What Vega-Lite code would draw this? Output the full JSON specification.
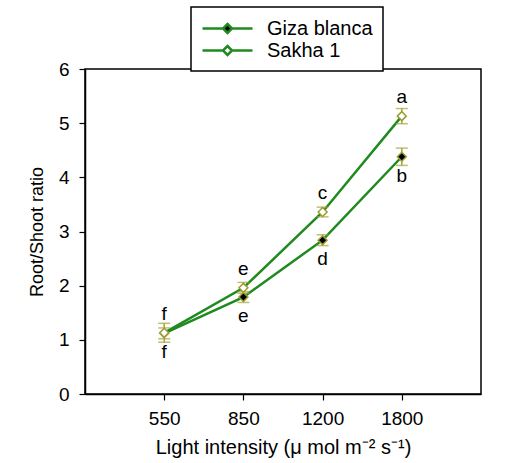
{
  "$schema": "https://vega.github.io/schema/vega-lite/v6.json",
  "width": 396,
  "height": 325,
  "autosize": "none",
  "padding": {"left": 85, "top": 69, "right": 32, "bottom": 69},
  "background": "white",
  "config": {
    "font": "Liberation Sans",
    "view": {"stroke": "black", "strokeWidth": 1.5},
    "axis": {
      "domainColor": "black", "domainWidth": 1.5, "tickColor": "black", "tickWidth": 1.2,
      "tickSize": 6, "grid": false, "labelFontSize": 19, "labelColor": "black",
      "titleFontSize": 20, "titleFontWeight": "normal", "titleColor": "black", "labelFont": "Liberation Sans", "titleFont": "Liberation Sans"
    },
    "legend": {"strokeColor": "black", "strokeWidth": 1.5, "fillColor": "white"}
  },
  "data": {
    "values": [
      {"light": "550", "cultivar": "Giza blanca", "ratio": 1.12, "err": 0.1, "letter": "f"},
      {"light": "850", "cultivar": "Giza blanca", "ratio": 1.79, "err": 0.1, "letter": "e"},
      {"light": "1200", "cultivar": "Giza blanca", "ratio": 2.84, "err": 0.1, "letter": "d"},
      {"light": "1800", "cultivar": "Giza blanca", "ratio": 4.38, "err": 0.16, "letter": "b"},
      {"light": "550", "cultivar": "Sakha 1", "ratio": 1.13, "err": 0.175, "letter": "f"},
      {"light": "850", "cultivar": "Sakha 1", "ratio": 1.96, "err": 0.1, "letter": "e"},
      {"light": "1200", "cultivar": "Sakha 1", "ratio": 3.36, "err": 0.09, "letter": "c"},
      {"light": "1800", "cultivar": "Sakha 1", "ratio": 5.13, "err": 0.14, "letter": "a"}
    ]
  },
  "encoding": {
    "x": {
      "field": "light", "type": "ordinal", "sort": ["550", "850", "1200", "1800"],
      "scale": {"type": "point", "padding": 1},
      "axis": {"title": "Light intensity (μ mol m⁻² s⁻¹)", "labelAngle": 0, "labelPadding": 9, "titlePadding": 9}
    },
    "y": {
      "field": "ratio", "type": "quantitative",
      "scale": {"domain": [0, 6], "nice": false, "zero": true},
      "axis": {"title": "Root/Shoot ratio", "values": [0, 1, 2, 3, 4, 5, 6], "labelPadding": 10, "titlePadding": 12, "titleFontSize": 18}
    }
  },
  "layer": [
    {
      "mark": {"type": "line", "strokeWidth": 2.5},
      "encoding": {
        "color": {
          "field": "cultivar", "type": "nominal",
          "scale": {"domain": ["Giza blanca", "Sakha 1"], "range": ["#1f8a1f", "#1f8a1f"]},
          "legend": {
            "title": null, "orient": "none", "legendX": 106, "legendY": -62,
            "symbolType": "M-1,0H1.05M1.95,0H4M1.5,-0.45L1.95,0L1.5,0.45L1.05,0Z",
            "symbolSize": 400, "symbolStrokeWidth": 2.5, "labelFontSize": 20, "labelColor": "black",
            "labelOffset": 43, "padding": 10, "rowPadding": 0,
            "encode": {"symbols": {"update": {"fill": {"signal": "datum.value === 'Giza blanca' ? 'black' : 'white'"}}}}
          }
        }
      }
    },
    {
      "mark": {"type": "errorbar", "color": "#a3a33a", "thickness": 1.5, "ticks": {"size": 12, "thickness": 1.5}},
      "encoding": {
        "y": {"field": "ratio", "type": "quantitative"},
        "yError": {"field": "err"}
      }
    },
    {
      "mark": {"type": "point", "shape": "diamond", "size": 80, "stroke": "#9c9c35", "strokeWidth": 1.5, "opacity": 1},
      "encoding": {
        "fill": {
          "field": "cultivar", "type": "nominal",
          "scale": {"domain": ["Giza blanca", "Sakha 1"], "range": ["black", "white"]},
          "legend": null
        }
      }
    },
    {
      "transform": [{"filter": "datum.cultivar === 'Sakha 1'"}],
      "mark": {"type": "text", "dy": -19, "fontSize": 19, "color": "black", "baseline": "middle"},
      "encoding": {"text": {"field": "letter"}}
    },
    {
      "transform": [{"filter": "datum.cultivar === 'Giza blanca'"}],
      "mark": {"type": "text", "dy": 19, "fontSize": 19, "color": "black", "baseline": "middle"},
      "encoding": {"text": {"field": "letter"}}
    }
  ]
}
